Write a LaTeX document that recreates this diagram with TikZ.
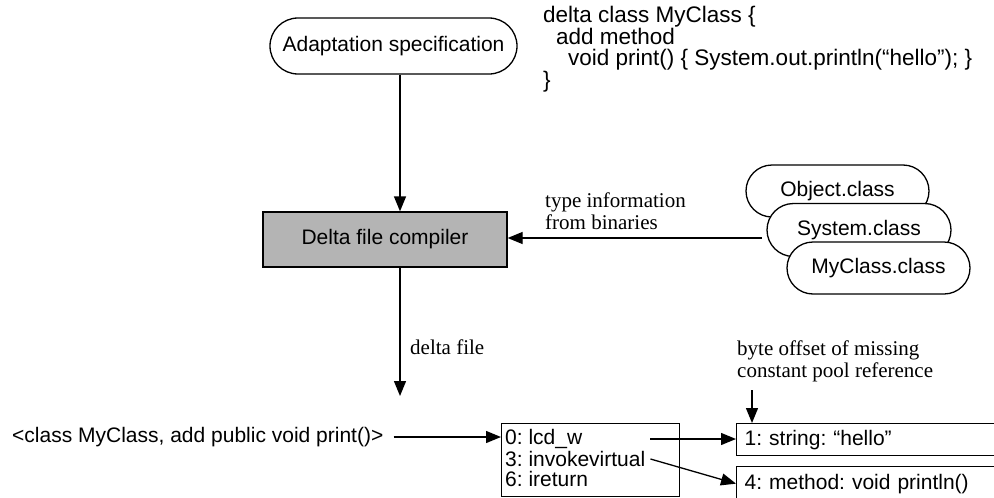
\documentclass[tikz,border=0pt]{standalone}
\usepackage{fontspec}
\setmainfont{Liberation Serif}
\setsansfont{Liberation Sans}
\usetikzlibrary{arrows.meta,shapes.misc}
\definecolor{compgray}{RGB}{180,180,180}
\tikzset{
  sans/.style={font=\sffamily\fontsize{21}{21}\selectfont\frenchspacing},
  codetext/.style={font=\sffamily\fontsize{22.5}{21.5}\selectfont\frenchspacing},
  serif/.style={font=\rmfamily\fontsize{21}{22}\selectfont\frenchspacing},
  pill/.style={rounded rectangle, draw, line width=1.3pt, fill=white, sans, inner sep=0pt},
  arr/.style={-{Triangle[length=15pt,width=12pt]}, line width=1.3pt},
  plainbox/.style={draw, line width=1.3pt, rectangle, inner sep=0pt},
  label/.style={inner sep=0pt},
}
\begin{document}
\begin{tikzpicture}[x=1pt,y=-1pt]
\useasboundingbox (0,0) rectangle (994,498);
\clip (0,0) rectangle (994,498);

% source specification and its delta-class text
\node[pill, minimum width=247pt, minimum height=56pt] (adapt) at (393.5,46) {Adaptation specification};
\node[codetext, label, anchor=north west, align=left] (code) at (543,6)
  {delta class MyClass \{\\
   \hspace*{13pt}add method\\
   \hspace*{25pt}void print() \{ System.out.println(“hello”); \}\\
   \}};

% compiler
\node[plainbox, fill=compgray, minimum width=244pt, minimum height=55pt, sans] (comp) at (385,239.5) {Delta file compiler};
\coordinate (spine) at (400,0);
\draw[arr] (adapt.south -| spine) -- (comp.north -| spine);

% class files read as binaries
\node[pill, minimum width=183pt, minimum height=52pt] (obj) at (837.5,191) {Object.class};
\node[pill, minimum width=184pt, minimum height=53pt] (sys) at (859,230) {System.class};
\node[pill, minimum width=183pt, minimum height=52pt] (mine) at (878.5,268) {MyClass.class};
\coordinate (typein) at (762,238);
\draw[arr] (typein) -- (typein -| comp.east);
\node[serif, label, anchor=south west, align=left] (typelbl) at (545,230) {type information\\from binaries};

% delta file output
\coordinate (dfend) at (400,396);
\draw[arr] (comp.south -| spine) -- (dfend);
\node[serif, label, anchor=west] (dflbl) at (410,347) {delta file};

% delta file contents
\node[sans, label, anchor=west] (tuple) at (12,437) {<class MyClass, add public void print()>};
\node[plainbox, minimum width=178pt, minimum height=73pt, anchor=north west] (cbox) at (501,423) {};
\node[sans, label, anchor=west] (l0) at (505,439) {0: lcd\_w};
\node[sans, label, anchor=west] (l3) at (505,459) {3: invokevirtual};
\node[sans, label, anchor=west] (l6) at (505,479) {6: ireturn};
\draw[arr] ([xshift=10pt]tuple.east) -- (tuple.east -| cbox.west);

% constant pool entries
\node[plainbox, sans, anchor=north west, minimum height=32pt, text width=290pt, align=left, inner xsep=8pt] (str) at (736,423) {1: string: “hello”};
\node[plainbox, sans, anchor=north west, minimum height=34pt, text width=290pt, align=left, inner xsep=8pt] (meth) at (736,466) {4: method: void println()};
\path ([xshift=5pt]l3.east) coordinate (r3);
\draw[arr] (r3 |- l0.east) -- (l0.east -| str.west);
\draw[arr] (r3) -- (meth.west);

% missing reference marker
\node[serif, label, anchor=south west, align=left] (bytelbl) at (737,382) {byte offset of missing\\constant pool reference};
\coordinate (bytetop) at (752,390);
\draw[arr] (bytetop) -- (bytetop |- str.north);
\end{tikzpicture}
\end{document}
